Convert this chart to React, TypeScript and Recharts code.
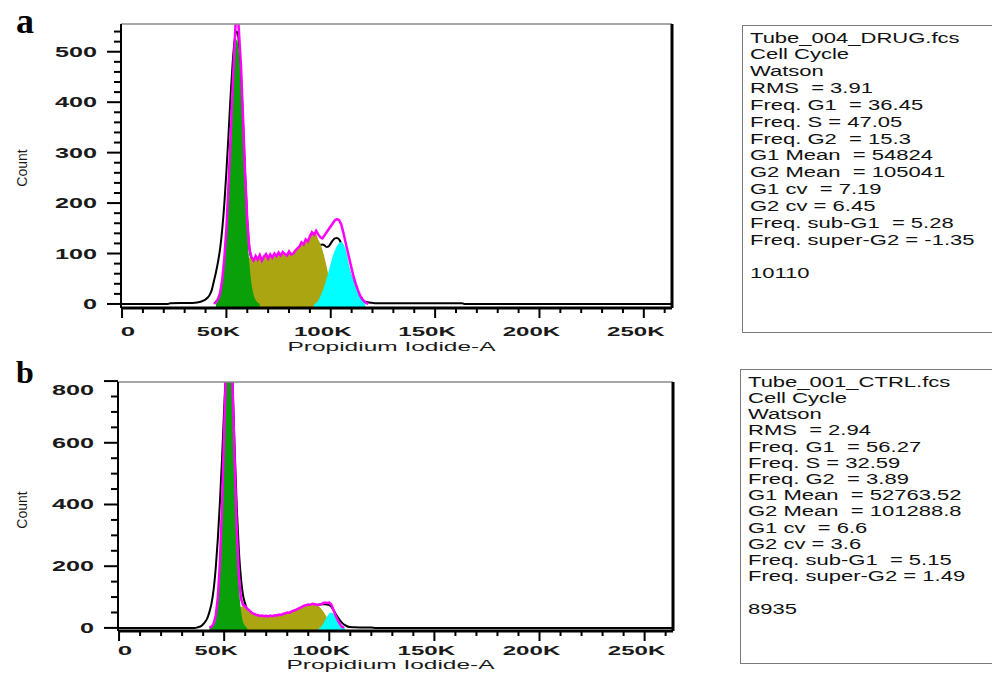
import React from 'react'
import { ComposedChart, Area, Line, XAxis, YAxis, ReferenceLine } from 'recharts'

// x values are in thousands (K) of Propidium Iodide-A, y values are counts
const DRUG_BLACK: [number, number][] = [
  [0, 0], [22, 0], [23, 1.5], [34, 2], [36, 3], [38, 5], [40, 9], [42, 18], [43, 28], [44, 45],
  [45, 63], [46, 84], [47, 110], [48, 148], [49, 198], [50, 262], [51, 335], [52, 412], [53, 478],
  [54, 525], [55, 540], [56, 518], [57, 452], [58, 358], [59, 252], [60, 166], [61, 112], [62, 91],
  [64, 85], [66, 84], [68, 85], [70, 86], [72, 87], [74, 88], [76, 90], [78, 92], [80, 95], [82, 98],
  [84, 102], [86, 106], [88, 110], [90, 113], [92, 115], [94, 116], [96, 118], [97, 116], [98, 113],
  [99, 114], [100, 120], [101, 126], [102, 130], [103, 131], [104, 128], [105, 120], [106, 108],
  [107, 92], [108, 76], [109, 62], [110, 50], [111, 40], [112, 31], [113, 23], [114, 16], [115, 10],
  [116, 6], [117, 4], [119, 2.5], [121, 1.5], [163, 1.5], [164, 0], [263, 0],
]

const DRUG_MAGENTA: [number, number][] = [
  [44, 0], [45, 4], [46, 10], [47, 22], [48, 48], [49, 90], [50, 150], [51, 235], [52, 330], [53, 430],
  [54, 520], [54.5, 565], [55, 585], [55.5, 575], [56, 540], [57, 470], [58, 365], [59, 255], [60, 165],
  [61, 110], [62, 93], [63, 86], [64, 95], [65, 88], [66, 97], [67, 86], [68, 94], [69, 99], [70, 90],
  [71, 98], [72, 92], [73, 100], [74, 95], [75, 102], [76, 96], [77, 103], [78, 99], [79, 96], [80, 104],
  [81, 98], [82, 100], [83, 106], [84, 110], [85, 114], [86, 122], [87, 118], [88, 128], [89, 124],
  [90, 134], [91, 142], [92, 137], [93, 145], [94, 138], [95, 132], [96, 130], [97, 136], [98, 142],
  [99, 148], [100, 154], [101, 160], [102, 166], [103, 168], [104, 166], [105, 158], [106, 142],
  [107, 124], [108, 106], [109, 88], [110, 70], [111, 53], [112, 40], [113, 28], [114, 17], [115, 10],
  [116, 5], [117, 2], [118, 0],
]

const DRUG_G1: [number, number][] = [
  [45, 0], [46, 8], [47, 19], [48, 41], [49, 81], [50, 143], [51, 228], [52, 329], [53, 426], [54, 498],
  [55, 525], [56, 498], [57, 426], [58, 329], [59, 228], [60, 143], [61, 81], [62, 41], [63, 19],
  [64, 8], [65, 3], [66, 0],
]

const DRUG_S: [number, number][] = [
  [53, 0], [54, 40], [55, 70], [56, 82], [57, 86], [58, 88], [59, 90], [60, 90], [61, 92], [62, 91],
  [63, 85], [64, 94], [65, 87], [66, 96], [67, 85], [68, 93], [69, 98], [70, 89], [71, 97], [72, 91],
  [73, 99], [74, 94], [75, 101], [76, 95], [77, 102], [78, 98], [79, 95], [80, 103], [81, 97], [82, 99],
  [83, 105], [84, 109], [85, 113], [86, 121], [87, 117], [88, 127], [89, 123], [90, 133], [91, 141],
  [92, 136], [93, 140], [94, 128], [95, 120], [96, 108], [97, 92], [98, 75], [99, 55], [100, 36],
  [101, 20], [102, 9], [103, 3], [104, 0],
]

const DRUG_G2: [number, number][] = [
  [92, 0], [93, 2], [95, 15], [97, 36], [99, 65], [101, 95], [103, 115], [105, 123], [107, 110],
  [109, 72], [111, 45], [113, 25], [115, 9], [116.5, 0],
]

const CTRL_BLACK: [number, number][] = [
  [0, 0], [36, 0], [37, 1], [38, 3], [39, 6], [40, 12], [41, 20], [42, 32], [43, 52], [44, 80],
  [45, 125], [46, 195], [47, 290], [48, 410], [49, 550], [50, 710], [51, 860], [52, 960], [53, 930],
  [54, 790], [55, 580], [56, 390], [57, 250], [58, 160], [59, 105], [60, 78], [61, 60], [62, 52],
  [64, 45], [68, 38], [72, 37], [76, 40], [80, 46], [84, 55], [88, 66], [92, 73], [96, 76], [98, 77],
  [100, 74], [101, 68], [102, 58], [103, 46], [104, 35], [105, 25], [106, 17], [107, 11], [108, 7],
  [109, 4], [110, 3], [112, 2], [116, 1.5], [120, 1], [122, 0], [263, 0],
]

const CTRL_MAGENTA: [number, number][] = [
  [43, 0], [44, 4], [45, 14], [46, 40], [47, 100], [48, 215], [49, 400], [50, 640], [51, 860], [52, 985],
  [53, 950], [54, 780], [55, 540], [56, 320], [57, 170], [58, 95], [59, 74], [60, 70], [61, 62], [62, 56],
  [63, 50], [64, 46], [65, 43], [66, 41], [67, 39], [68, 40], [69, 38], [70, 39], [71, 37], [72, 40],
  [73, 38], [74, 41], [75, 40], [76, 43], [77, 42], [78, 45], [79, 47], [80, 50], [81, 49], [82, 53],
  [83, 56], [84, 58], [85, 62], [86, 65], [87, 68], [88, 72], [89, 74], [90, 76], [91, 75], [92, 78],
  [93, 77], [94, 75], [95, 74], [96, 76], [97, 80], [98, 82], [99, 81], [100, 82], [101, 75], [102, 58],
  [103, 40], [104, 26], [105, 13], [106, 4], [107, 0],
]

const CTRL_G1: [number, number][] = [
  [43, 0], [44, 2], [45, 9], [46, 30], [47, 83], [48, 191], [49, 369], [50, 600], [51, 820], [52, 943],
  [53, 910], [54, 739], [55, 504], [56, 289], [57, 140], [58, 57], [59, 19], [60, 6], [61, 0],
]

const CTRL_S: [number, number][] = [
  [50, 0], [52, 35], [54, 55], [56, 63], [57, 66], [58, 68], [59, 70], [60, 68], [61, 61], [62, 55],
  [63, 49], [64, 45], [65, 42], [66, 40], [67, 38], [68, 39], [69, 37], [70, 38], [71, 36], [72, 39],
  [73, 37], [74, 40], [75, 39], [76, 42], [77, 41], [78, 44], [79, 46], [80, 49], [81, 48], [82, 52],
  [83, 55], [84, 57], [85, 61], [86, 64], [87, 67], [88, 71], [89, 73], [90, 75], [91, 74], [92, 76],
  [93, 75], [94, 73], [95, 70], [96, 64], [97, 55], [98, 44], [99, 32], [100, 20], [101, 10], [102, 3],
  [103, 0],
]

const CTRL_G2: [number, number][] = [
  [95, 0], [96, 3], [97, 12], [98, 25], [99, 38], [100, 47], [101, 50], [102, 46], [103, 38],
  [104, 29], [105, 18], [106, 8], [107, 2], [107.5, 0],
]

const X_TICKS = [0, 10, 20, 30, 40, 50, 60, 70, 80, 90, 100, 110, 120, 130, 140, 150, 160, 170, 180, 190, 200, 210, 220, 230, 240, 250, 260]
const X_MAJOR = [0, 50, 100, 150, 200, 250]
const DRUG_Y_TICKS = [0, 20, 40, 60, 80, 100, 120, 140, 160, 180, 200, 220, 240, 260, 280, 300, 320, 340, 360, 380, 400, 420, 440, 460, 480, 500, 520, 540]
const DRUG_Y_MAJOR = [0, 100, 200, 300, 400, 500]
const CTRL_Y_TICKS = [0, 50, 100, 150, 200, 250, 300, 350, 400, 450, 500, 550, 600, 650, 700, 750, 800]
const CTRL_Y_MAJOR = [0, 200, 400, 600, 800]

const DRUG_STATS = [
  'Tube_004_DRUG.fcs',
  'Cell Cycle',
  'Watson',
  'RMS  = 3.91',
  'Freq. G1  = 36.45',
  'Freq. S = 47.05',
  'Freq. G2  = 15.3',
  'G1 Mean  = 54824',
  'G2 Mean  = 105041',
  'G1 cv  = 7.19',
  'G2 cv = 6.45',
  'Freq. sub-G1  = 5.28',
  'Freq. super-G2 = -1.35',
  '',
  '10110',
]

const CTRL_STATS = [
  'Tube_001_CTRL.fcs',
  'Cell Cycle',
  'Watson',
  'RMS  = 2.94',
  'Freq. G1  = 56.27',
  'Freq. S = 32.59',
  'Freq. G2  = 3.89',
  'G1 Mean  = 52763.52',
  'G2 Mean  = 101288.8',
  'G1 cv  = 6.6',
  'G2 cv = 3.6',
  'Freq. sub-G1  = 5.15',
  'Freq. super-G2 = 1.49',
  '',
  '8935',
]

const GREEN = '#0aa00a'
const OLIVE = '#aaa510'
const CYAN = '#00ffff'
const MAGENTA = '#ff00ff'
const FONT = '"Liberation Sans", Arial, sans-serif'

const toRows = (pts: [number, number][]) => pts.map(([x, y]) => ({ x, y }))

const makeXTick = (labelOffset: number) => (props: any) => {
  const { x, y, payload } = props
  const v = payload.value
  const major = X_MAJOR.includes(v)
  const label = v === 0 ? '0' : `${v}K`
  return (
    <g>
      <line x1={x} y1={y} x2={x} y2={y + (major ? 10 : 5)} stroke="#000" strokeWidth={2} />
      {major && (
        <text
          x={x + (v === 0 ? 6 : -8)}
          y={y + labelOffset}
          textAnchor="middle"
          dominantBaseline="central"
          fontFamily={FONT}
          fontSize={13}
          fontWeight={700}
          fill="#1a1a1a"
          textLength={label.length * 14.4}
          lengthAdjust="spacingAndGlyphs"
        >
          {label}
        </text>
      )}
    </g>
  )
}

const makeYTick = (majors: number[], top: number) => (props: any) => {
  const { x, y, payload } = props
  const v = payload.value
  const major = majors.includes(v)
  const label = String(v)
  return (
    <g>
      <line x1={x - (major ? 14 : 7)} y1={y} x2={x} y2={y} stroke="#000" strokeWidth={2} />
      {major && (
        <text
          x={x - 24}
          y={y + (v === top ? 9 : 0)}
          textAnchor="end"
          dominantBaseline="central"
          fontFamily={FONT}
          fontSize={14}
          fontWeight={700}
          fill="#1a1a1a"
          textLength={label.length * 14}
          lengthAdjust="spacingAndGlyphs"
        >
          {label}
        </text>
      )}
    </g>
  )
}

interface PanelProps {
  height: number
  margin: { top: number; right: number; left: number; bottom: number }
  yDomain: [number, number]
  yTicks: number[]
  yMajor: number[]
  yTop: number
  xLabelOffset: number
  titleOffset: number
  black: [number, number][]
  magenta: [number, number][]
  g1: [number, number][]
  s: [number, number][]
  g2: [number, number][]
}

function Histogram(p: PanelProps) {
  const xDomain: [number, number] = [-0.5, 263.5]
  const base = p.yDomain[0]
  return (
    <ComposedChart width={700} height={p.height} margin={p.margin}>
      <XAxis
        type="number"
        dataKey="x"
        domain={xDomain}
        allowDataOverflow
        ticks={X_TICKS}
        interval={0}
        tickSize={0}
        tickMargin={0}
        tickLine={false}
        tick={makeXTick(p.xLabelOffset)}
        axisLine={{ stroke: '#000', strokeWidth: 3 }}
        height={40}
        label={{
          content: (lp: any) => {
            const vb = lp.viewBox
            return (
              <text
                x={vb.x + vb.width / 2 - 5}
                y={vb.y + p.titleOffset}
                textAnchor="middle"
                fontFamily={FONT}
                fontSize={13.5}
                fill="#1a1a1a"
                textLength={208}
                lengthAdjust="spacingAndGlyphs"
              >
                Propidium Iodide-A
              </text>
            )
          },
        }}
      />
      <YAxis
        type="number"
        domain={p.yDomain}
        allowDataOverflow
        ticks={p.yTicks}
        interval={0}
        tickSize={0}
        tickMargin={0}
        tickLine={false}
        tick={makeYTick(p.yMajor, p.yTop)}
        axisLine={{ stroke: '#000', strokeWidth: 2 }}
        width={60}
      />
      <Area
        data={toRows(p.black)}
        dataKey="y"
        type="monotone"
        fill="none"
        stroke="#000"
        strokeWidth={2}
        dot={false}
        activeDot={false}
        isAnimationActive={false}
      />
      <Area
        data={toRows(p.s)}
        dataKey="y"
        type="linear"
        baseValue={base}
        fill={OLIVE}
        fillOpacity={1}
        stroke="none"
        dot={false}
        activeDot={false}
        isAnimationActive={false}
      />
      <Area
        data={toRows(p.g1)}
        dataKey="y"
        type="monotone"
        baseValue={base}
        fill={GREEN}
        fillOpacity={1}
        stroke="none"
        dot={false}
        activeDot={false}
        isAnimationActive={false}
      />
      <Area
        data={toRows(p.g2)}
        dataKey="y"
        type="monotone"
        baseValue={base}
        fill={CYAN}
        fillOpacity={1}
        stroke="none"
        dot={false}
        activeDot={false}
        isAnimationActive={false}
      />
      <Line
        data={toRows(p.magenta)}
        dataKey="y"
        type="linear"
        stroke={MAGENTA}
        strokeWidth={2.5}
        dot={false}
        activeDot={false}
        isAnimationActive={false}
      />
      <ReferenceLine y={p.yDomain[1]} stroke="#8a8a8a" strokeWidth={1.5} />
      <ReferenceLine x={xDomain[1]} stroke="#000" strokeWidth={3} />
    </ComposedChart>
  )
}

function StatsBox({ lines, left, top, height, lineH, padTop }: { lines: string[]; left: number; top: number; height: number; lineH: number; padTop: number }) {
  return (
    <div
      style={{
        position: 'absolute',
        left,
        top,
        width: 300,
        height,
        border: '1px solid #7a7a7a',
        boxSizing: 'border-box',
        paddingTop: padTop,
        paddingLeft: 7,
        fontFamily: FONT,
        fontSize: 15.5,
        color: '#111',
      }}
    >
      {lines.map((l, i) => (
        <div
          key={i}
          style={{
            height: lineH,
            lineHeight: `${lineH}px`,
            whiteSpace: 'pre',
            transform: 'scaleX(1.42)',
            transformOrigin: 'left center',
          }}
        >
          {l}
        </div>
      ))}
    </div>
  )
}

// rotated y-axis title
function CountLabel({ cy }: { cy: number }) {
  return (
    <div
      style={{
        position: 'absolute',
        left: 22,
        top: cy,
        transform: 'translate(-50%, -50%) rotate(-90deg)',
        fontFamily: FONT,
        fontSize: 14,
        lineHeight: '14px',
        color: '#1a1a1a',
        whiteSpace: 'nowrap',
      }}
    >
      Count
    </div>
  )
}

export default function App() {
  return (
    <div style={{ position: 'absolute', left: 0, top: 0, width: 992, height: 673, overflow: 'hidden', background: '#fff' }}>
      <div style={{ position: 'absolute', left: 0, top: 0 }}>
        <Histogram
          height={360}
          margin={{ top: 24, right: 28, left: 61, bottom: 12 }}
          yDomain={[-8, 555]}
          yTicks={DRUG_Y_TICKS}
          yMajor={DRUG_Y_MAJOR}
          yTop={-1}
          xLabelOffset={23}
          titleOffset={43}
          black={DRUG_BLACK}
          magenta={DRUG_MAGENTA}
          g1={DRUG_G1}
          s={DRUG_S}
          g2={DRUG_G2}
        />
      </div>
      <div style={{ position: 'absolute', left: 0, top: 340 }}>
        <Histogram
          height={333}
          margin={{ top: 42, right: 27, left: 58, bottom: 2 }}
          yDomain={[-10, 797]}
          yTicks={CTRL_Y_TICKS}
          yMajor={CTRL_Y_MAJOR}
          yTop={800}
          xLabelOffset={19}
          titleOffset={38}
          black={CTRL_BLACK}
          magenta={CTRL_MAGENTA}
          g1={CTRL_G1}
          s={CTRL_S}
          g2={CTRL_G2}
        />
      </div>
      <CountLabel cy={168} />
      <CountLabel cy={510} />
      <div style={{ position: 'absolute', left: 16, top: 3, fontFamily: '"Liberation Serif", "Times New Roman", serif', fontWeight: 700, fontSize: 36, lineHeight: '36px' }}>a</div>
      <div style={{ position: 'absolute', left: 16, top: 356, fontFamily: '"Liberation Serif", "Times New Roman", serif', fontWeight: 700, fontSize: 32, lineHeight: '32px' }}>b</div>
      <StatsBox lines={DRUG_STATS} left={742} top={25} height={308} lineH={16.83} padTop={3.6} />
      <StatsBox lines={CTRL_STATS} left={740} top={369} height={295} lineH={16.2} padTop={3.9} />
    </div>
  )
}
